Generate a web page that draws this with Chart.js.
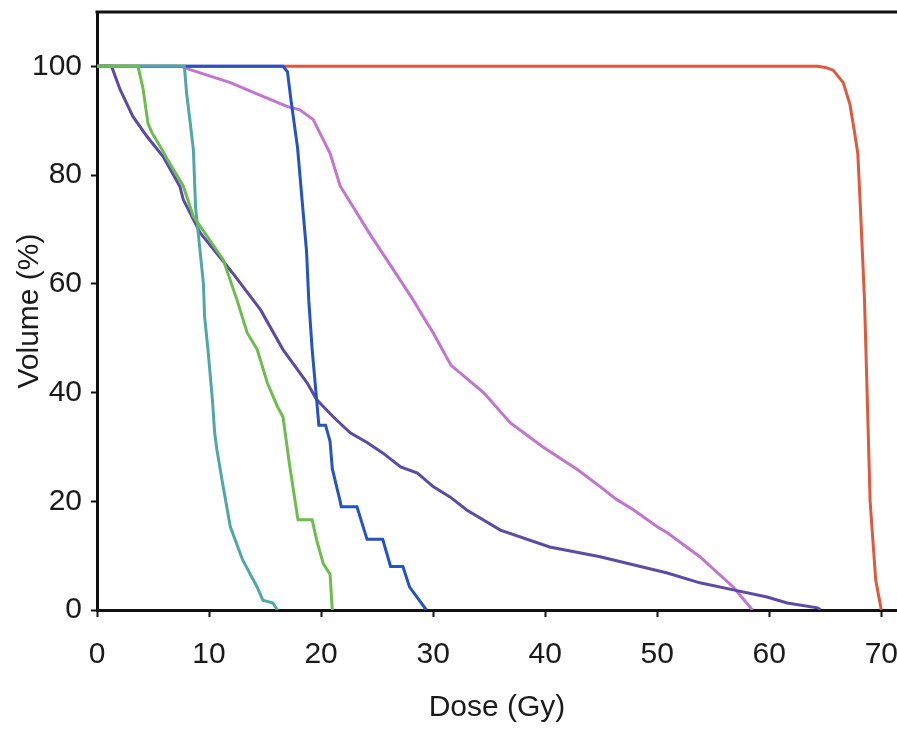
<!DOCTYPE html>
<html>
<head>
<meta charset="utf-8">
<script src="https://cdn.jsdelivr.net/npm/chart.js@4/dist/chart.umd.min.js"></script>
<style>
  html, body { margin: 0; padding: 0; background: #ffffff; }
  #wrap { width: 897px; height: 729px; position: relative; }
</style>
</head>
<body>
<div id="wrap"><canvas id="c" width="897" height="729"></canvas></div>
<script>
// ---- Data (dose in Gy, volume in %) ----
const xTickValues = [0, 10, 20, 30, 40, 50, 60, 70];
const yTickValues = [0, 20, 40, 60, 80, 100];
const xAxisTitle = 'Dose (Gy)';
const yAxisTitle = 'Volume (%)';

const greenDose = [0, 3.66, 4.1, 4.55, 4.9, 5.8, 6.25, 7.7, 8.6, 11.25, 12.5, 13.4, 14.3, 15.2, 16.1, 16.6, 17.2, 17.9, 17.95, 19.2, 19.6, 20.2, 20.8, 21.0];
const greenVol  = [100, 100, 96, 89.5, 87.8, 84.7, 83, 78, 72.4, 64.5, 57, 51, 47.9, 41.8, 37.4, 35.5, 26.5, 17.1, 16.6, 16.6, 12.9, 8.5, 6.6, 0];

const cyanDose = [0, 7.8, 8.0, 8.3, 8.6, 8.8, 9.2, 9.5, 9.6, 9.9, 10.3, 10.5, 10.7, 11.2, 11.9, 13.0, 14.3, 14.8, 15.7, 16.1];
const cyanVol  = [100, 100, 95, 90, 84.7, 74, 66, 60, 54, 48, 38.7, 32.6, 29.5, 23.4, 15.3, 9.2, 4.2, 1.8, 1.3, 0];

const blueDose = [0, 16.6, 17.0, 17.3, 17.9, 18.3, 18.7, 18.9, 19.2, 19.6, 19.8, 20.4, 20.8, 21.0, 21.7, 21.8, 23.2, 24.1, 25.5, 26.2, 27.3, 27.9, 29.4];
const blueVol  = [100, 100, 99, 94, 85, 75.5, 66, 57, 48, 38.7, 34, 34, 31, 26, 20, 19, 19, 13, 13, 8, 8, 4.2, 0];

const purpleDose = [0, 1.3, 2.05, 3.2, 4.5, 5.9, 7.4, 7.7, 9.2, 12.1, 14.6, 16.6, 18.75, 19.6, 21.1, 22.6, 24.1, 25.5, 27.1, 28.6, 30.0, 31.5, 33.0, 36.0, 40.4, 44.9, 48.5, 50.9, 53.8, 56.8, 59.8, 61.6, 64.3, 64.6];
const purpleVol  = [100, 100, 95.8, 90.8, 87, 83.4, 77.9, 75.5, 69.4, 62, 55.2, 47.9, 41.8, 38.7, 35.5, 32.6, 30.8, 28.9, 26.3, 25.2, 22.7, 20.8, 18.4, 14.7, 11.6, 9.8, 8, 6.8, 5.0, 3.7, 2.4, 1.3, 0.4, 0];

const pinkDose = [0, 7.5, 8.3, 11.9, 14.8, 17.0, 18.1, 19.3, 20.8, 21.7, 24.4, 26.8, 28.2, 29.1, 30.0, 31.6, 34.5, 36.9, 39.8, 42.9, 44.9, 46.4, 47.9, 50.0, 50.9, 53.8, 56.8, 58.3, 58.5];
const pinkVol  = [100, 100, 99.4, 97, 94.5, 92.6, 92, 90.2, 84, 78, 69, 61.5, 57.1, 54, 51, 45, 40, 34.4, 30, 25.8, 22.7, 20.3, 18.4, 15.3, 14.2, 9.8, 4.2, 0.5, 0];

const redDose = [0, 64.3, 65.0, 65.7, 66.6, 67.2, 67.6, 67.9, 68.1, 68.5, 68.75, 69.0, 69.5, 70.0];
const redVol  = [100, 100, 99.8, 99.3, 97, 93, 88, 84, 75.5, 57, 38.7, 20, 5.5, 0];

// ---- Build datasets ----
function pts(xs, ys) { return xs.map((x, i) => ({ x: x, y: ys[i] })); }

const FONT = "'Liberation Sans', Arial, Helvetica, sans-serif";

function ds(label, xs, ys, color) {
  return {
    label: label,
    data: pts(xs, ys),
    borderColor: color,
    backgroundColor: color,
    borderWidth: 3,
    pointRadius: 0,
    tension: 0,
    fill: false
  };
}

// dataset 0 is drawn on top
const datasets = [
  ds('green', greenDose, greenVol, '#6cbd4e'),
  ds('cyan', cyanDose, cyanVol, '#4fa8a6'),
  ds('blue', blueDose, blueVol, '#2453c6'),
  ds('purple', purpleDose, purpleVol, '#5c4aa6'),
  ds('pink', pinkDose, pinkVol, '#c274d0'),
  ds('red', redDose, redVol, '#e0583e')
];

const topBorder = {
  id: 'topBorder',
  afterDraw(chart) {
    const a = chart.chartArea, ctx = chart.ctx;
    ctx.save();
    ctx.strokeStyle = '#111';
    ctx.lineWidth = 3;
    ctx.beginPath();
    ctx.moveTo(a.left - 1.5, a.top);
    ctx.lineTo(chart.width, a.top);
    ctx.stroke();
    ctx.restore();
  }
};

new Chart(document.getElementById('c'), {
  type: 'line',
  data: { datasets: datasets },
  plugins: [topBorder],
  options: {
    responsive: false,
    animation: false,
    layout: { padding: { top: 12, right: 0, left: 0, bottom: 0 } },
    plugins: { legend: { display: false }, tooltip: { enabled: false } },
    scales: {
      x: {
        type: 'linear',
        min: 0,
        max: 71.4,
        afterFit(s) { s.height = 119; s.paddingLeft = 0; s.paddingRight = 0; },
        afterBuildTicks(s) { s.ticks = xTickValues.map(v => ({ value: v })); },
        ticks: {
          color: '#1a1a1a',
          font: { family: FONT, size: 30 },
          padding: 20,
          maxRotation: 0,
          autoSkip: false,
          callback: v => String(v)
        },
        grid: { drawOnChartArea: false, drawTicks: true, tickLength: 7, tickColor: '#111', tickWidth: 2 },
        border: { color: '#111', width: 3 },
        title: { display: true, text: xAxisTitle, color: '#1a1a1a', font: { family: FONT, size: 30 }, padding: { top: 0, bottom: 3 } }
      },
      y: {
        type: 'linear',
        min: 0,
        max: 110,
        afterFit(s) { s.width = 97; s.paddingTop = 0; s.paddingBottom = 0; },
        afterBuildTicks(s) { s.ticks = yTickValues.map(v => ({ value: v })); },
        ticks: {
          color: '#1a1a1a',
          font: { family: FONT, size: 30 },
          padding: 9,
          autoSkip: false,
          callback: v => String(v)
        },
        grid: { drawOnChartArea: false, drawTicks: true, tickLength: 6, tickColor: '#111', tickWidth: 2 },
        border: { color: '#111', width: 3 },
        title: { display: true, text: yAxisTitle, color: '#1a1a1a', font: { family: FONT, size: 30 }, padding: { top: 12, bottom: 0 } }
      }
    }
  }
});
</script>
</body>
</html>
